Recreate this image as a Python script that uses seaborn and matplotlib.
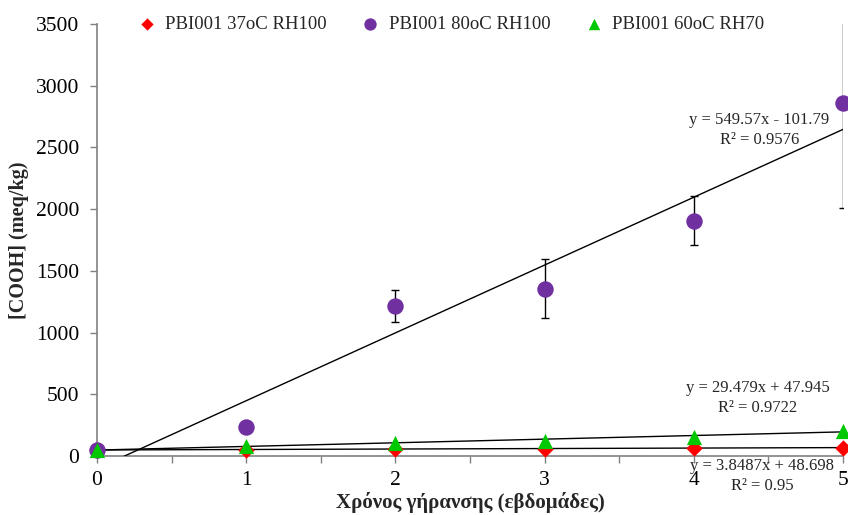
import numpy as np
import pandas as pd
import matplotlib
matplotlib.use("Agg")
import matplotlib.pyplot as plt
import seaborn as sns

# Ageing time (weeks)
weeks = [0, 1, 2, 3, 4, 5]

# Series labels
series_names = ["PBI001 37oC RH100", "PBI001 80oC RH100", "PBI001 60oC RH70"]

# [COOH] (meq/kg) per series
cooh_37_rh100 = [50, 50, 55, 60, 62, 68]
cooh_80_rh100 = [45, 235, 1215, 1355, 1905, 2860]
cooh_60_rh70 = [45, 80, 105, 125, 150, 200]

# Standard deviations for the 80oC series
err_80_rh100 = [0, 0, 128, 238, 198, 850]

# Linear trend coefficients (slope, intercept, R²)
fit_37 = (3.8487, 48.698, "0.95")
fit_80 = (549.57, -101.79, "0.9576")
fit_60 = (29.479, 47.945, "0.9722")

y_ticks = [0, 500, 1000, 1500, 2000, 2500, 3000, 3500]
x_ticks = [0, 1, 2, 3, 4, 5]

sns.set_theme(style="white")
plt.rcParams["font.family"] = ["Liberation Serif", "DejaVu Serif"]

df = pd.DataFrame({
    "week": weeks * 3,
    "cooh": cooh_37_rh100 + cooh_80_rh100 + cooh_60_rh70,
    "series": [series_names[0]] * 6 + [series_names[1]] * 6 + [series_names[2]] * 6,
})

colors = {series_names[0]: "#FF0000", series_names[1]: "#7030A0", series_names[2]: "#00C800"}
markers = {series_names[0]: "D", series_names[1]: "o", series_names[2]: "^"}
sizes = {series_names[0]: 70, series_names[1]: 140, series_names[2]: 120}

fig = plt.figure(figsize=(8.48, 5.15), dpi=100)
ax = fig.add_axes([0.1144, 0.1146, 0.8797, 0.8388])

# Error bars for the 80oC series
ax.errorbar(weeks, cooh_80_rh100, yerr=err_80_rh100, fmt="none", ecolor="black",
            elinewidth=1.0, capsize=3, capthick=1.0, zorder=2)

# Trend lines
xs = np.array([0.0, 5.0])
for slope, intercept, _ in (fit_37, fit_60, fit_80):
    ax.plot(xs, slope * xs + intercept, color="black", lw=1.0, zorder=3)

# Markers
for name in series_names:
    sub = df[df["series"] == name]
    sns.scatterplot(data=sub, x="week", y="cooh", ax=ax, color=colors[name],
                    marker=markers[name], s=sizes[name], linewidth=0,
                    label=name, zorder=4, clip_on=False)

ax.set_xlim(0, 5)
ax.set_ylim(0, 3500)
ax.set_xticks(x_ticks)
ax.set_xticks(np.arange(0.5, 5, 1.0), minor=True)
ax.set_yticks(y_ticks)
ax.tick_params(axis="both", which="both", direction="out", length=5, width=1,
               color="#808080", labelsize=15.5, labelcolor="black")
ax.tick_params(axis="x", which="both", bottom=True, pad=6)
ax.tick_params(axis="y", which="major", left=True, pad=8)

for side in ("top", "right"):
    ax.spines[side].set_visible(False)
for side in ("left", "bottom"):
    ax.spines[side].set_color("#808080")
    ax.spines[side].set_linewidth(1.2)

ax.set_xlabel("Χρόνος γήρανσης (εβδομάδες)", fontsize=15, fontweight="bold", labelpad=1)
ax.set_ylabel("[COOH] (meq/kg)", fontsize=14.5, fontweight="bold", labelpad=5)

# Trend equations
def eq_text(slope, intercept):
    sign = "+" if intercept >= 0 else "-"
    return f"y = {slope:g}x {sign} {abs(intercept):g}"

eq_style = dict(ha="center", va="center", fontsize=12, linespacing=1.35)
ax.text(4.44, 2640, eq_text(*fit_80[:2]) + "\n" + f"R² = {fit_80[2]}", **eq_style)
ax.text(4.43, 470, eq_text(*fit_60[:2]) + "\n" + f"R² = {fit_60[2]}", **eq_style)
ax.text(4.46, -160, eq_text(*fit_37[:2]) + "\n" + f"R² = {fit_37[2]}",
        clip_on=False, **eq_style)

leg = ax.legend(loc="center", bbox_to_anchor=(0.468, 1.0), ncol=3, frameon=False,
                fontsize=13.5, handletextpad=0.0, columnspacing=1.3,
                markerscale=0.75, borderaxespad=0)

fig.savefig("out.png", dpi=100)
